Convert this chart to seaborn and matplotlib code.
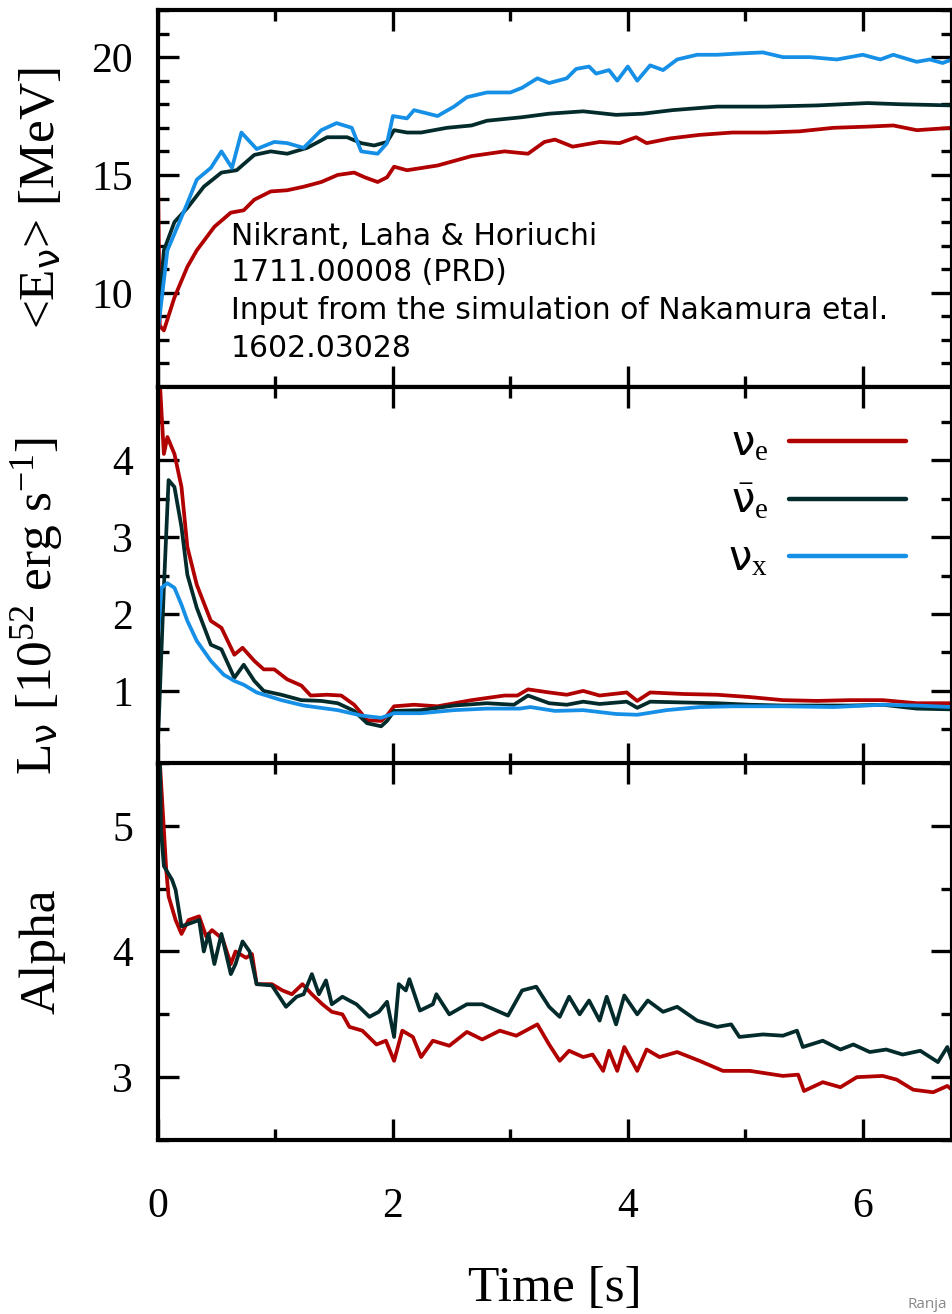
import matplotlib
matplotlib.use("Agg")
import matplotlib.pyplot as plt
import seaborn as sns
from matplotlib.ticker import MultipleLocator

# ---- data ----
# top panel: mean energy <E_nu> [MeV]
t_E_e = [0.0, 0.015, 0.05, 0.14, 0.25, 0.33, 0.48, 0.62, 0.73, 0.82, 0.96, 1.1, 1.24, 1.39, 1.53,
         1.67, 1.76, 1.87, 1.95, 2.01, 2.12, 2.38, 2.67, 2.95, 3.15, 3.29, 3.38, 3.53, 3.76, 3.93,
         4.07, 4.16, 4.36, 4.61, 4.89, 5.18, 5.46, 5.75, 6.04, 6.26, 6.46, 6.76]
E_e = [15.1, 8.6, 8.4, 9.8, 11.1, 11.8, 12.8, 13.4, 13.5, 13.95, 14.3, 14.35, 14.5, 14.7, 15.0,
       15.1, 14.9, 14.7, 14.9, 15.35, 15.2, 15.4, 15.8, 16.0, 15.9, 16.4, 16.5, 16.2, 16.4, 16.35,
       16.6, 16.35, 16.55, 16.7, 16.8, 16.8, 16.85, 17.0, 17.05, 17.1, 16.9, 17.0]

t_E_eb = [0.0, 0.05, 0.14, 0.25, 0.39, 0.54, 0.67, 0.82, 0.96, 1.1, 1.27, 1.44, 1.61, 1.73, 1.84,
          1.95, 2.01, 2.12, 2.24, 2.46, 2.67, 2.8, 3.1, 3.33, 3.62, 3.9, 4.13, 4.38, 4.76, 5.18,
          5.61, 6.04, 6.32, 6.76]
E_eb = [8.7, 11.8, 13.0, 13.6, 14.5, 15.1, 15.2, 15.85, 16.0, 15.9, 16.15, 16.6, 16.6, 16.35, 16.25,
        16.4, 16.9, 16.8, 16.8, 17.0, 17.1, 17.3, 17.45, 17.6, 17.7, 17.55, 17.6, 17.75, 17.9, 17.9,
        17.95, 18.05, 18.0, 17.95]

t_E_x = [0.0, 0.08, 0.25, 0.33, 0.45, 0.54, 0.63, 0.71, 0.84, 0.99, 1.1, 1.24, 1.39, 1.52, 1.65,
         1.73, 1.87, 1.95, 2.0, 2.12, 2.18, 2.38, 2.52, 2.63, 2.8, 3.0, 3.1, 3.23, 3.33, 3.48,
         3.56, 3.67, 3.73, 3.84, 3.91, 4.0, 4.08, 4.19, 4.3, 4.42, 4.59, 4.76, 4.93, 5.15, 5.32,
         5.55, 5.78, 6.0, 6.15, 6.26, 6.46, 6.57, 6.68, 6.76]
E_x = [8.4, 11.8, 13.8, 14.8, 15.3, 16.0, 15.3, 16.8, 16.1, 16.4, 16.35, 16.15, 16.9, 17.2, 17.0,
       16.0, 15.9, 16.35, 17.5, 17.4, 17.75, 17.5, 17.9, 18.3, 18.5, 18.5, 18.7, 19.1, 18.9, 19.1,
       19.5, 19.6, 19.3, 19.45, 19.0, 19.6, 19.0, 19.65, 19.45, 19.9, 20.1, 20.1, 20.15, 20.2, 20.0,
       20.0, 19.9, 20.1, 19.9, 20.1, 19.8, 19.9, 19.75, 19.9]

# middle panel: luminosity [1e52 erg/s]
t_L_e = [0.005, 0.05, 0.08, 0.14, 0.2, 0.25, 0.33, 0.45, 0.54, 0.65, 0.72, 0.82, 0.9, 0.99, 1.1,
         1.22, 1.3, 1.44, 1.56, 1.67, 1.78, 1.9, 1.95, 2.01, 2.18, 2.38, 2.67, 2.95, 3.06, 3.15,
         3.33, 3.48, 3.62, 3.76, 3.99, 4.08, 4.19, 4.47, 4.76, 5.04, 5.32, 5.61, 5.89, 6.17, 6.46, 6.76]
L_e = [5.3, 4.08, 4.3, 4.08, 3.65, 2.87, 2.38, 1.91, 1.82, 1.47, 1.56, 1.39, 1.28, 1.28, 1.15,
       1.07, 0.94, 0.95, 0.94, 0.82, 0.62, 0.61, 0.68, 0.8, 0.82, 0.8, 0.88, 0.94, 0.94, 1.02,
       0.98, 0.95, 1.0, 0.94, 0.98, 0.87, 0.98, 0.96, 0.95, 0.92, 0.88, 0.87, 0.88, 0.88, 0.84, 0.84]

t_L_eb = [0.0, 0.05, 0.09, 0.14, 0.2, 0.25, 0.33, 0.45, 0.54, 0.65, 0.73, 0.82, 0.9, 1.05, 1.22,
          1.39, 1.53, 1.67, 1.78, 1.9, 1.95, 2.01, 2.24, 2.52, 2.8, 3.03, 3.15, 3.33, 3.48, 3.62,
          3.76, 3.99, 4.08, 4.19, 4.47, 4.76, 5.04, 5.32, 5.61, 5.89, 6.17, 6.46, 6.76]
L_eb = [0.35, 2.34, 3.74, 3.65, 3.13, 2.51, 2.08, 1.6, 1.54, 1.17, 1.34, 1.13, 1.0, 0.95, 0.88,
        0.87, 0.84, 0.74, 0.58, 0.54, 0.61, 0.74, 0.75, 0.81, 0.84, 0.82, 0.94, 0.84, 0.82, 0.86,
        0.83, 0.86, 0.78, 0.86, 0.85, 0.84, 0.82, 0.81, 0.81, 0.81, 0.82, 0.77, 0.76]

t_L_x = [0.0, 0.03, 0.08, 0.14, 0.2, 0.25, 0.33, 0.45, 0.56, 0.65, 0.73, 0.84, 1.05, 1.24, 1.53,
         1.73, 1.9, 2.01, 2.24, 2.52, 2.8, 3.08, 3.17, 3.38, 3.62, 3.9, 4.08, 4.33, 4.61, 4.89,
         5.32, 5.75, 6.17, 6.46, 6.76]
L_x = [1.7, 2.34, 2.4, 2.34, 2.12, 1.91, 1.65, 1.39, 1.21, 1.13, 1.08, 0.98, 0.88, 0.81, 0.75,
       0.68, 0.65, 0.71, 0.71, 0.75, 0.77, 0.77, 0.79, 0.74, 0.75, 0.7, 0.69, 0.75, 0.79, 0.8,
       0.8, 0.79, 0.82, 0.81, 0.79]

# bottom panel: pinching parameter alpha
t_A_e = [0.01, 0.05, 0.07, 0.09, 0.15, 0.2, 0.26, 0.35, 0.41, 0.46, 0.55, 0.62, 0.66, 0.75, 0.8,
         0.84, 0.97, 1.06, 1.14, 1.23, 1.31, 1.4, 1.48, 1.57, 1.63, 1.74, 1.86, 1.94, 2.01, 2.08,
         2.17, 2.24, 2.34, 2.48, 2.63, 2.76, 2.91, 3.05, 3.23, 3.33, 3.42, 3.5, 3.62, 3.7, 3.79,
         3.84, 3.91, 3.97, 4.08, 4.16, 4.27, 4.42, 4.61, 4.81, 5.04, 5.32, 5.45, 5.5, 5.66, 5.81,
         5.95, 6.17, 6.29, 6.43, 6.6, 6.72, 6.76]
A_e = [5.6, 4.97, 4.65, 4.44, 4.25, 4.14, 4.25, 4.28, 4.12, 4.17, 4.1, 3.9, 4.0, 3.95, 3.98,
       3.74, 3.74, 3.69, 3.66, 3.74, 3.66, 3.58, 3.52, 3.5, 3.4, 3.37, 3.26, 3.29, 3.13, 3.37,
       3.32, 3.16, 3.29, 3.25, 3.36, 3.3, 3.37, 3.33, 3.42, 3.26, 3.13, 3.21, 3.16, 3.18, 3.05,
       3.21, 3.05, 3.24, 3.05, 3.22, 3.16, 3.2, 3.13, 3.05, 3.05, 3.01, 3.02, 2.89, 2.96, 2.92,
       3.0, 3.01, 2.98, 2.9, 2.88, 2.93, 2.9]

t_A_eb = [0.015, 0.025, 0.05, 0.12, 0.15, 0.2, 0.35, 0.39, 0.43, 0.48, 0.54, 0.62, 0.66, 0.72, 0.78,
          0.84, 0.97, 1.09, 1.18, 1.24, 1.31, 1.37, 1.43, 1.48, 1.57, 1.69, 1.8, 1.88, 1.95, 2.01,
          2.05, 2.11, 2.14, 2.23, 2.34, 2.37, 2.48, 2.63, 2.76, 2.98, 3.1, 3.22, 3.33, 3.42, 3.5,
          3.59, 3.67, 3.76, 3.82, 3.9, 3.97, 4.08, 4.17, 4.3, 4.42, 4.59, 4.76, 4.88, 4.95, 5.15,
          5.32, 5.44, 5.49, 5.66, 5.81, 5.92, 6.06, 6.2, 6.34, 6.49, 6.64, 6.72, 6.76]
A_eb = [5.6, 4.97, 4.68, 4.57, 4.49, 4.2, 4.25, 4.0, 4.14, 3.9, 4.14, 3.82, 3.9, 4.08, 4.0,
        3.74, 3.73, 3.56, 3.64, 3.66, 3.82, 3.66, 3.77, 3.58, 3.64, 3.58, 3.48, 3.52, 3.6, 3.32,
        3.74, 3.69, 3.78, 3.53, 3.58, 3.66, 3.5, 3.58, 3.58, 3.49, 3.69, 3.72, 3.56, 3.48, 3.64,
        3.5, 3.61, 3.45, 3.64, 3.42, 3.65, 3.5, 3.61, 3.52, 3.56, 3.45, 3.4, 3.42, 3.32, 3.34,
        3.33, 3.37, 3.24, 3.29, 3.22, 3.26, 3.2, 3.22, 3.18, 3.21, 3.12, 3.24, 3.13]

labels = [r'$\mathsf{ν}_{\mathrm{e}}$', r'$\bar{\mathsf{ν}}_{\mathrm{e}}$', r'$\mathsf{ν}_{\mathrm{x}}$']
colors = ['#b00000', '#032b2b', '#168fe6']
note_lines = ['Nikrant, Laha & Horiuchi', '1711.00008 (PRD)',
              'Input from the simulation of Nakamura etal.', '1602.03028']

# ---- style ----
sns.set_theme(style='ticks')
plt.rcParams['font.family'] = ['Liberation Serif', 'DejaVu Sans']
plt.rcParams['text.color'] = 'black'
plt.rcParams['axes.labelcolor'] = 'black'
plt.rcParams['xtick.color'] = 'black'
plt.rcParams['ytick.color'] = 'black'
plt.rcParams['mathtext.fontset'] = 'custom'
plt.rcParams['mathtext.rm'] = 'Liberation Serif'
plt.rcParams['mathtext.it'] = 'Liberation Serif:italic'
plt.rcParams['mathtext.sf'] = 'DejaVu Sans'

W, H = 953, 1314
fig = plt.figure(figsize=(W / 100, H / 100), dpi=100)
left = 158 / W
width = 794 / W
tops = [10, 387, 763]
axes = []
for tp in tops:
    ax = fig.add_axes([left, 1 - (tp + 377) / H, width, 377 / H])
    axes.append(ax)
ax1, ax2, ax3 = axes

LW = 2.7
sns.lineplot(x=t_E_e, y=E_e, ax=ax1, color=colors[0], lw=LW)
sns.lineplot(x=t_E_eb, y=E_eb, ax=ax1, color=colors[1], lw=LW)
sns.lineplot(x=t_E_x, y=E_x, ax=ax1, color=colors[2], lw=LW)

sns.lineplot(x=t_L_e, y=L_e, ax=ax2, color=colors[0], lw=LW, label=labels[0])
sns.lineplot(x=t_L_eb, y=L_eb, ax=ax2, color=colors[1], lw=LW, label=labels[1])
sns.lineplot(x=t_L_x, y=L_x, ax=ax2, color=colors[2], lw=LW, label=labels[2])

sns.lineplot(x=t_A_e, y=A_e, ax=ax3, color=colors[0], lw=LW)
sns.lineplot(x=t_A_eb, y=A_eb, ax=ax3, color=colors[1], lw=LW)

ax1.set_ylim(6, 22)
ax2.set_ylim(0.05, 4.95)
ax3.set_ylim(2.5, 5.5)
ax1.yaxis.set_major_locator(MultipleLocator(5))
ax1.yaxis.set_minor_locator(MultipleLocator(1))
for ax in (ax2, ax3):
    ax.yaxis.set_major_locator(MultipleLocator(1))
    ax.yaxis.set_minor_locator(MultipleLocator(0.5))

for ax in axes:
    ax.set_xlim(0, 6.76)
    ax.xaxis.set_major_locator(MultipleLocator(2))
    ax.xaxis.set_minor_locator(MultipleLocator(1))
    ax.tick_params(which='both', direction='in', top=True, right=True, width=2.4, colors='black')
    ax.tick_params(which='major', length=15, labelsize=30, pad=18)
    ax.tick_params(which='minor', length=8)
    for sp in ax.spines.values():
        sp.set_linewidth(3)
        sp.set_color('black')
    ax.set_xlabel('')
for ax in (ax1, ax2):
    ax.tick_params(labelbottom=False)
ax3.tick_params(axis='x', pad=34)

ax1.set_ylabel(r'<E$_{\mathsf{ν}}$> [MeV]', fontsize=37)
ax2.set_ylabel(r'L$_{\mathsf{ν}}$ [10$^{52}$ erg s$^{-1}$]', fontsize=37)
ax3.set_ylabel('Alpha', fontsize=37)
ax1.yaxis.set_label_coords(-0.117, 0.5)
ax2.yaxis.set_label_coords(-0.117, 0.42)
ax3.yaxis.set_label_coords(-0.117, 0.5)
ax3.set_xlabel('Time [s]', fontsize=37, labelpad=29)

# annotation block
note_y = [12.37, 10.85, 9.24, 7.63]
for txt, yy in zip(note_lines, note_y):
    ax1.text(0.62, yy, txt, fontsize=21.5, family='DejaVu Sans', color='black',
             va='center', ha='left')

leg = ax2.legend(loc='upper right', frameon=False, markerfirst=False, fontsize=30,
                 handlelength=2.8, handletextpad=0.5, labelspacing=0.45,
                 borderaxespad=0.5, bbox_to_anchor=(0.989, 0.997))
for line in leg.get_lines():
    line.set_linewidth(3.2)

fig.text(908 / W, 1 - 1304 / H, 'Ranja', fontsize=11, color='#888888',
         family='Open Sans', va='center', ha='left')

fig.savefig('out.png', dpi=100)
